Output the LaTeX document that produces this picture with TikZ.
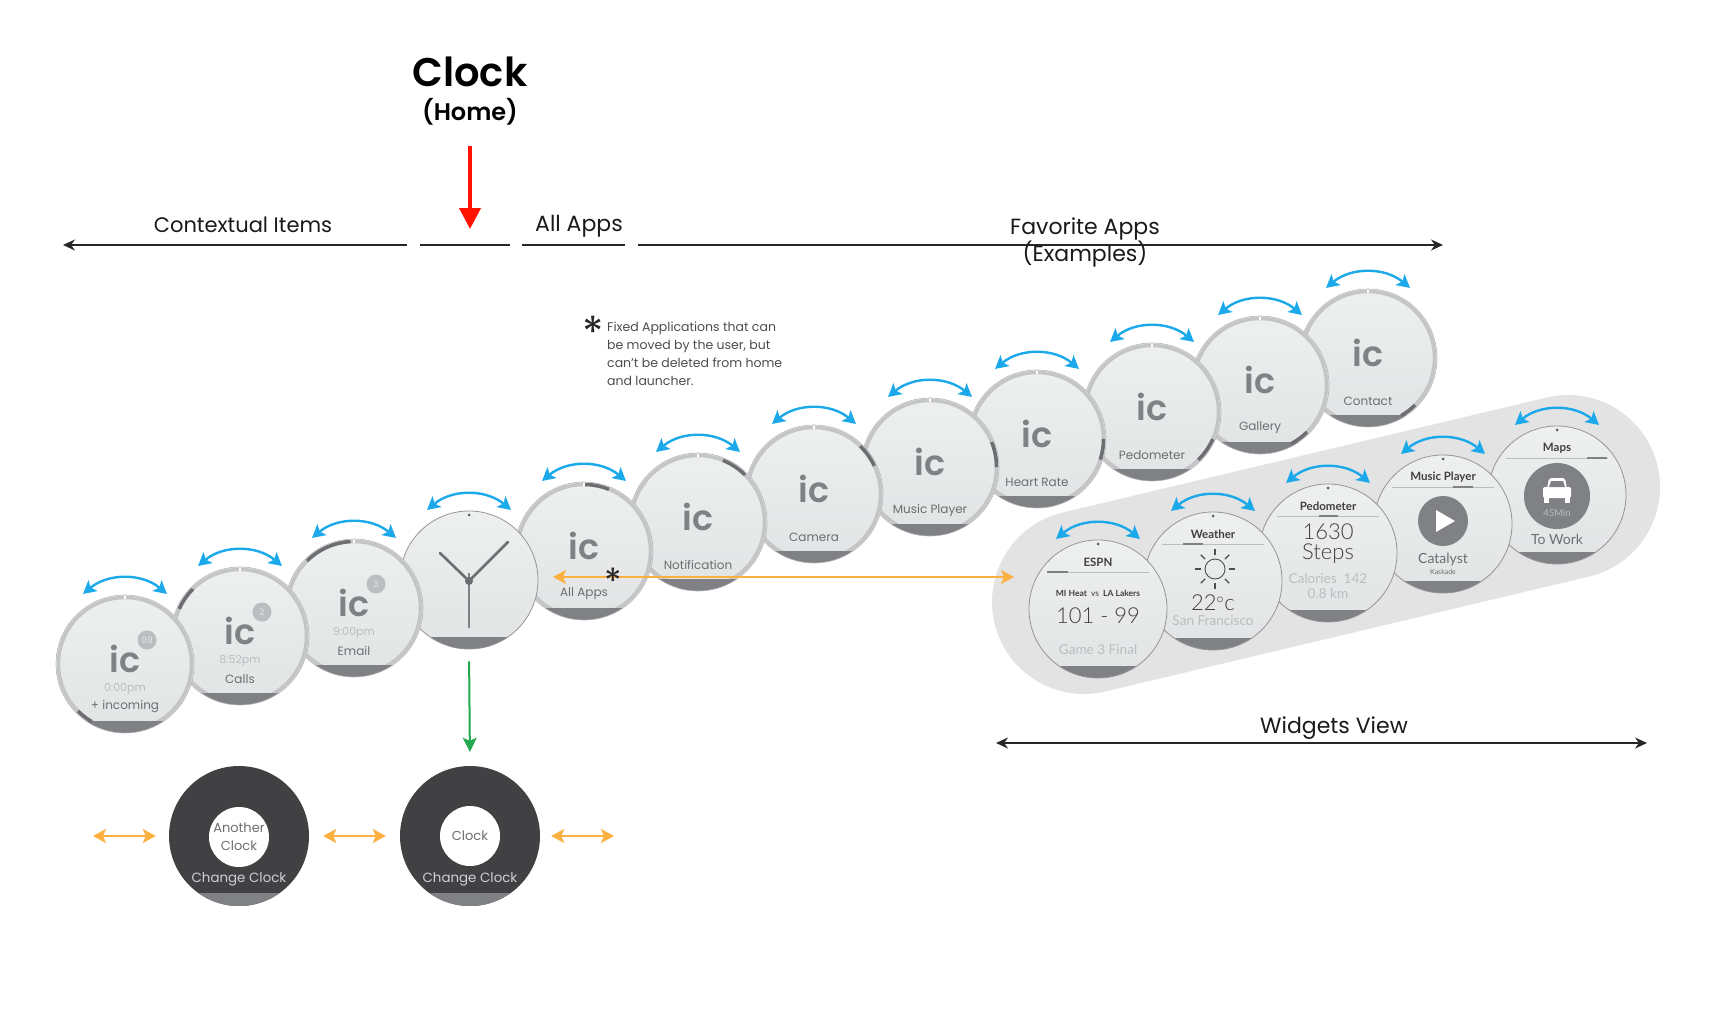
\documentclass[tikz,border=0pt]{standalone}
\usepackage{fontspec}
\setmainfont{Poppins}
\newfontfamily\mediumfont{Poppins SemiBold}
\newfontfamily\narrowfont{Lato}
\newfontfamily\thinfont{Lato Light}
\usetikzlibrary{arrows.meta}
\definecolor{facetop}{HTML}{EEEFEF}
\definecolor{facebot}{HTML}{E2E3E4}
\definecolor{ringgray}{HTML}{C4C5C7}
\definecolor{edgegray}{HTML}{939598}
\definecolor{darkgray}{HTML}{808184}
\definecolor{inkgray}{HTML}{6D6E71}
\definecolor{palegray}{HTML}{BCBDC0}
\definecolor{bandgray}{HTML}{E3E3E3}
\definecolor{swipeblue}{HTML}{1CA9E9}
\definecolor{pickorange}{HTML}{FBB040}
\definecolor{faceblack}{HTML}{414042}
\definecolor{downgreen}{HTML}{22A84F}
\newcommand{\fs}[1]{\fontsize{#1}{#1}\selectfont}
\newcommand{\swipearc}[1]{
  \coordinate (#1-l) at ([shift={(-42,70)}]#1.center);
  \coordinate (#1-r) at ([shift={(42,70)}]#1.center);
  \draw[swipe] (#1-l) to[bend left=40] (#1-r);
}
\newcommand{\appwatch}[6]{
  \node[watch] (#1) at (#2,-#3) {};
  \draw[ringmark] ([shift={(#5:66.5)}]#1.center) arc[start angle=#5, end angle=#6, radius=66.5];
  \draw[white, line width=2pt] ([yshift=65pt]#1.center) -- ([yshift=68pt]#1.center);
  \node[ictext] (#1-ic) at ([yshift=5pt]#1.center) {ic};
  \node[applabel] (#1-label) at ([yshift=-43pt]#1.center) {#4};
  \swipearc{#1}
}
\newcommand{\apptime}[2]{\node[timetext] (#1-time) at ([yshift=-25pt]#1.center) {#2};}
\newcommand{\appbadge}[2]{\node[badge] (#1-badge) at ([shift={(22,24)}]#1.center) {#2};}
\newcommand{\widgetwatch}[6]{
  \node[widget] (#1) at (#2,-#3) {};
  \fill[edgegray!60!black] ([yshift=65pt]#1.center) circle (1.5pt);
  \node[widgettitle] (#1-title) at ([yshift=47pt]#1.center) {#4};
  \draw[palegray, line width=.8pt] ([shift={(-51,37)}]#1.center) -- ([shift={(51,37)}]#1.center);
  \draw[darkgray, line width=1.6pt] ([shift={(#5,37)}]#1.center) -- ([shift={(#6,37)}]#1.center);
  \swipearc{#1}
}
\begin{document}
\begin{tikzpicture}[
  x=1pt, y=1pt,
  watch/.style={
    circle,
    inner sep=0pt,
    minimum size=138pt,
    draw=edgegray!70,
    line width=.6pt,
    top color=facetop,
    bottom color=facebot,
    path picture={
      \draw[ringgray, line width=3.5pt] (path picture bounding box.center) circle (66.5pt);
      \fill[darkgray] ([yshift=12pt]path picture bounding box.south west) rectangle (path picture bounding box.south east);
    }
  },
  widget/.style={
    circle,
    inner sep=0pt,
    minimum size=138pt,
    draw=edgegray,
    line width=.8pt,
    top color=facetop,
    bottom color=facebot,
    path picture={
      \fill[darkgray] ([yshift=12pt]path picture bounding box.south west) rectangle (path picture bounding box.south east);
    }
  },
  dialface/.style={
    circle,
    inner sep=0pt,
    minimum size=140pt,
    fill=faceblack,
    path picture={
      \fill[darkgray] ([yshift=13pt]path picture bounding box.south west) rectangle (path picture bounding box.south east);
    }
  },
  dialhole/.style={circle, inner sep=0pt, minimum size=60pt, fill=white, align=center, text=inkgray, font=\fontsize{13pt}{18pt}\selectfont},
  dialtext/.style={inner sep=0pt, text=palegray!70!white, font=\fs{13.4}},
  ictext/.style={inner sep=0pt, text=darkgray, font=\mediumfont\fs{35}},
  applabel/.style={inner sep=0pt, text=inkgray, font=\fs{12}},
  timetext/.style={inner sep=0pt, text=palegray, font=\fs{11}},
  badge/.style={circle, inner sep=0pt, minimum size=19pt, fill=palegray, text=facebot, font=\fs{9}},
  widgettitle/.style={inner sep=0pt, text=black!75, font=\narrowfont\fs{11.5}\bfseries},
  widgetbig/.style={inner sep=0pt, text=black!75, font=\thinfont\fs{22}},
  widgetpale/.style={inner sep=0pt, text=palegray, font=\narrowfont\fs{13.6}},
  widgettext/.style={inner sep=0pt, text=inkgray, font=\narrowfont\fs{14}},
  ringmark/.style={inkgray, line width=3.5pt},
  swipe/.style={{Stealth[length=13pt,width=14pt,inset=3pt]}-{Stealth[length=13pt,width=14pt,inset=3pt]}, swipeblue, line width=2.4pt},
  pick/.style={{Stealth[length=13pt,width=14pt,inset=3pt]}-{Stealth[length=13pt,width=14pt,inset=3pt]}, pickorange, line width=2.2pt},
  span/.style={black!85, line width=1.6pt},
  heading/.style={inner sep=0pt, text=black!90, font=\fs{22}}
]
\useasboundingbox (0,0) rectangle (1736,-1014);

\coordinate (band-a) at (1084,-602);
\coordinate (band-b) at (1568,-487);
\draw[bandgray, line width=184pt, line cap=round] (band-a) -- (band-b);

\node[inner sep=0pt, font=\mediumfont\fs{40}] (clocktitle) at (470,-72) {Clock};
\node[inner sep=0pt, font=\mediumfont\fs{24}] (hometitle) at (470,-112) {(Home)};
\node[heading, font=\fs{21}] (contextual) at (243,-225) {Contextual Items};
\node[heading] (allappshead) at (579,-226) {All Apps};
\node[heading] (favorite) at (1085,-229) {Favorite Apps};
\node[heading] (examples) at (1085,-254) {(Examples)};
\node[heading] (widgetshead) at (1334,-728) {Widgets View};

\coordinate (span-a) at (63,-245);
\coordinate (span-b) at (407,-245);
\coordinate (span-c) at (420,-245);
\coordinate (span-d) at (510,-245);
\coordinate (span-e) at (522,-245);
\coordinate (span-f) at (625,-245);
\coordinate (span-g) at (638,-245);
\coordinate (span-h) at (1443,-245);
\coordinate (span-i) at (996,-743);
\coordinate (span-j) at (1647,-743);
\draw[span, {Stealth[length=12pt,width=11pt]}-] (span-a) -- (span-b);
\draw[span] (span-c) -- (span-d);
\draw[span] (span-e) -- (span-f);
\draw[span, -{Stealth[length=12pt,width=11pt]}] (span-g) -- (span-h);
\draw[span, {Stealth[length=12pt,width=11pt]}-{Stealth[length=12pt,width=11pt]}] (span-i) -- (span-j);

\coordinate (red-a) at (470,-146);
\coordinate (red-b) at (470,-229);
\draw[-{Triangle[length=21pt,width=21pt]}, red!85!orange, line width=4pt] (red-a) -- (red-b);

\node[inner sep=0pt, font=\fs{44}, text=black!85] (notemark) at (593,-332) {*};
\node[inner sep=0pt, anchor=north west, align=left, text=black!70, font=\fontsize{12.5pt}{18pt}\selectfont] (note) at (607,-322) {Fixed Applications that can\\be moved by the user, but\\can't be deleted from home\\and launcher.};

\appwatch{contact}{1368}{358}{Contact}{-45}{-60}
\appwatch{gallery}{1260}{385}{Gallery}{-45}{-62}
\appwatch{pedometer}{1152}{412}{Pedometer}{-24}{-46}
\appwatch{heartrate}{1037}{439}{Heart Rate}{0}{-18}
\appwatch{musicplayer}{930}{467}{Music Player}{22}{0}
\appwatch{camera}{814}{494}{Camera}{46}{25}
\appwatch{notification}{698}{522}{Notification}{68}{45}
\appwatch{allapps}{584}{551}{All Apps}{89}{68}

\node[widget] (clock) at (469,-580) {};
\fill[edgegray!60!black] ([yshift=65pt]clock.center) circle (1.5pt);
\draw[inkgray, line width=2.6pt, line cap=round] ([shift={(-29,27)}]clock.center) -- ([yshift=-1pt]clock.center) -- ([shift={(39,38)}]clock.center);
\draw[darkgray, line width=1.6pt] ([yshift=7pt]clock.center) -- ([yshift=-48pt]clock.center);
\fill[inkgray] ([yshift=-1pt]clock.center) circle (4pt);
\swipearc{clock}

\appwatch{email}{354}{608}{Email}{135}{93}
\apptime{email}{9:00pm}
\appbadge{email}{3}
\appwatch{calls}{240}{636}{Calls}{156}{135}
\apptime{calls}{8:52pm}
\appbadge{calls}{2}
\appwatch{incoming}{125}{664}{+ incoming}{240}{225}
\apptime{incoming}{0:00pm}
\appbadge{incoming}{99}

\widgetwatch{maps}{1557}{495}{Maps}{30}{50}
\node[circle, inner sep=0pt, minimum size=66pt, fill=darkgray] (maps-disc) at ([yshift=-1pt]maps.center) {};
\fill[white, rounded corners=2pt] ([shift={(-14,-3)}]maps.center) rectangle ([shift={(14,8)}]maps.center);
\fill[white, rounded corners=2pt] ([shift={(-10,6)}]maps.center) -- ([shift={(-8,17)}]maps.center) -- ([shift={(8,17)}]maps.center) -- ([shift={(10,6)}]maps.center) -- cycle;
\fill[darkgray] ([shift={(-8,8)}]maps.center) -- ([shift={(-6,14)}]maps.center) -- ([shift={(6,14)}]maps.center) -- ([shift={(8,8)}]maps.center) -- cycle;
\fill[white] ([shift={(-13,-8)}]maps.center) rectangle ([shift={(-8,-2)}]maps.center);
\fill[white] ([shift={(8,-8)}]maps.center) rectangle ([shift={(13,-2)}]maps.center);
\node[inner sep=0pt, text=palegray, font=\narrowfont\fs{9.5}] (maps-time) at ([yshift=-18pt]maps.center) {45Min};
\node[widgettext] (maps-dest) at ([yshift=-44pt]maps.center) {To Work};

\widgetwatch{player}{1443}{524}{Music Player}{10}{30}
\node[circle, inner sep=0pt, minimum size=50pt, fill=darkgray] (player-disc) at ([yshift=3pt]player.center) {};
\fill[white] ([shift={(-7,14)}]player.center) -- ([shift={(12,3)}]player.center) -- ([shift={(-7,-8)}]player.center) -- cycle;
\node[widgettext] (player-song) at ([yshift=-36pt]player.center) {Catalyst};
\node[inner sep=0pt, text=inkgray, font=\narrowfont\fs{7}] (player-artist) at ([yshift=-48pt]player.center) {Kaskade};

\widgetwatch{steps}{1328}{553}{Pedometer}{-9}{10}
\node[widgetbig, align=center, font=\thinfont\fontsize{22pt}{20pt}\selectfont] (steps-count) at ([yshift=9pt]steps.center) {1630\\Steps};
\node[widgetpale] (steps-cal) at ([yshift=-26pt]steps.center) {Calories\ \ 142};
\node[widgetpale] (steps-km) at ([yshift=-41pt]steps.center) {0.8 km};

\widgetwatch{weather}{1213}{581}{Weather}{-30}{-10}
\coordinate (sun) at ([shift={(2,12)}]weather.center);
\draw[inkgray!70!black, line width=.9pt] (sun) circle (10pt);
\foreach \a in {0,45,...,315}
  \draw[inkgray!70!black, line width=1.2pt] ([shift={(\a:14)}]sun) -- ([shift={(\a:20)}]sun);
\node[widgetbig] (weather-temp) at ([shift={(0,-22)}]weather.center) {22$^{\circ}$c};
\node[widgetpale] (weather-city) at ([yshift=-40pt]weather.center) {San Francisco};

\widgetwatch{espn}{1098}{609}{ESPN}{-51}{-30}
\node[inner sep=0pt, text=black!75, font=\narrowfont\fs{8.5}\bfseries] (espn-teams) at ([yshift=16pt]espn.center) {MI Heat\ \ {\mdseries vs}\ \ LA Lakers};
\node[widgetbig] (espn-score) at ([yshift=-7pt]espn.center) {101 - 99};
\node[widgetpale] (espn-game) at ([yshift=-41pt]espn.center) {Game 3 Final};

\coordinate (pick-a) at (553,-577);
\coordinate (pick-b) at (1014,-577);
\draw[pick, line width=1.5pt] (pick-a) -- (pick-b);
\node[inner sep=0pt, font=\fs{36}, text=black!85] (allappsmark) at (613,-581) {*};

\node[dialface] (dial-a) at (239,-836) {};
\node[dialhole] (dial-a-hole) at ([yshift=-1pt]dial-a.center) {Another\\Clock};
\node[dialtext] (dial-a-text) at ([yshift=-43pt]dial-a.center) {Change Clock};
\node[dialface] (dial-b) at (470,-836) {};
\node[dialhole] (dial-b-hole) at (dial-b.center) {Clock};
\node[dialtext] (dial-b-text) at ([yshift=-43pt]dial-b.center) {Change Clock};

\coordinate (pick-c) at (93,-836);
\coordinate (pick-d) at (614,-836);
\draw[pick, shorten >=13pt] (pick-c) -- (dial-a.west);
\draw[pick, shorten <=14pt, shorten >=14pt] (dial-a.east) -- (dial-b.west);
\draw[pick, shorten <=11pt] (dial-b.east) -- (pick-d);
\draw[-{Stealth[length=14pt,width=14pt,inset=3pt]}, downgreen, line width=2pt, shorten <=12pt, shorten >=14pt] (clock.south) -- (dial-b.north);

\end{tikzpicture}
\end{document}
